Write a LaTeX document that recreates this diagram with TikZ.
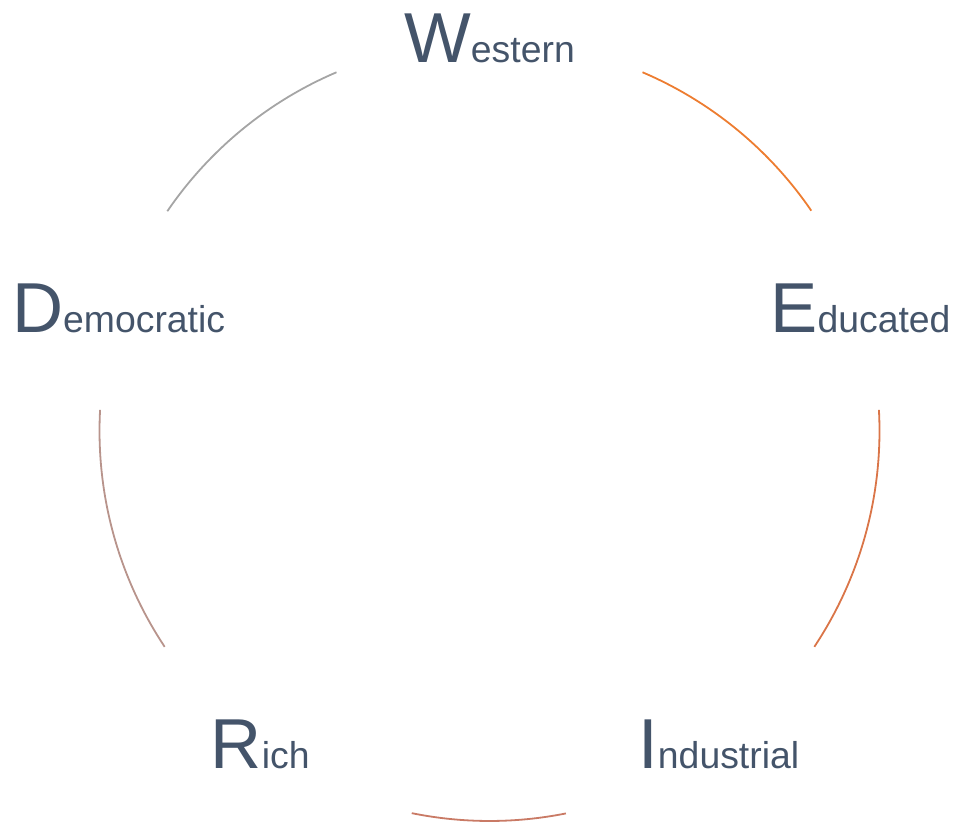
\documentclass[tikz,border=0pt]{standalone}
\usepackage{fontspec}
\setmainfont{Liberation Sans}
\definecolor{weirdtext}{HTML}{44546A}
\definecolor{arcwest}{HTML}{ED7D31}
\definecolor{arceduc}{HTML}{DA7548}
\definecolor{arcindu}{HTML}{C97A65}
\definecolor{arcrich}{HTML}{B8948C}
\definecolor{arcdemo}{HTML}{A5A5A5}
\newcommand{\bigfirst}[2]{{\fontsize{71}{71}\selectfont #1}{\fontsize{37.5}{37.5}\selectfont #2}}
\tikzset{weird label/.style={anchor=base, yshift=-22bp, inner sep=0pt, text=weirdtext},
    weird arc/.style={line width=1.8bp},
    }

\begin{document}
\begin{tikzpicture}[x=1bp,y=1bp]
\useasboundingbox (0,0) rectangle (960,822);
\coordinate (centre) at (489.5,391);
\foreach \name/\ang/\first/\rest in {west/90/W/estern, educ/18/E/ducated,
    indu/-54/I/ndustrial, rich/-126/R/ich, demo/162/D/emocratic}
  \node[weird label] (\name) at ([shift={(\ang:390)}]centre) {\bigfirst{\first}{\rest}};
\foreach \from/\to/\col in {66.9/34.4/arcwest, 3.1/-33.6/arceduc,
    -78.7/-101.5/arcindu, -146.4/-183.1/arcrich, 145.7/113.1/arcdemo}
  \draw[weird arc, \col] ([shift={(\from:390)}]centre) arc[start angle=\from, end angle=\to, radius=390];
\end{tikzpicture}
\end{document}
